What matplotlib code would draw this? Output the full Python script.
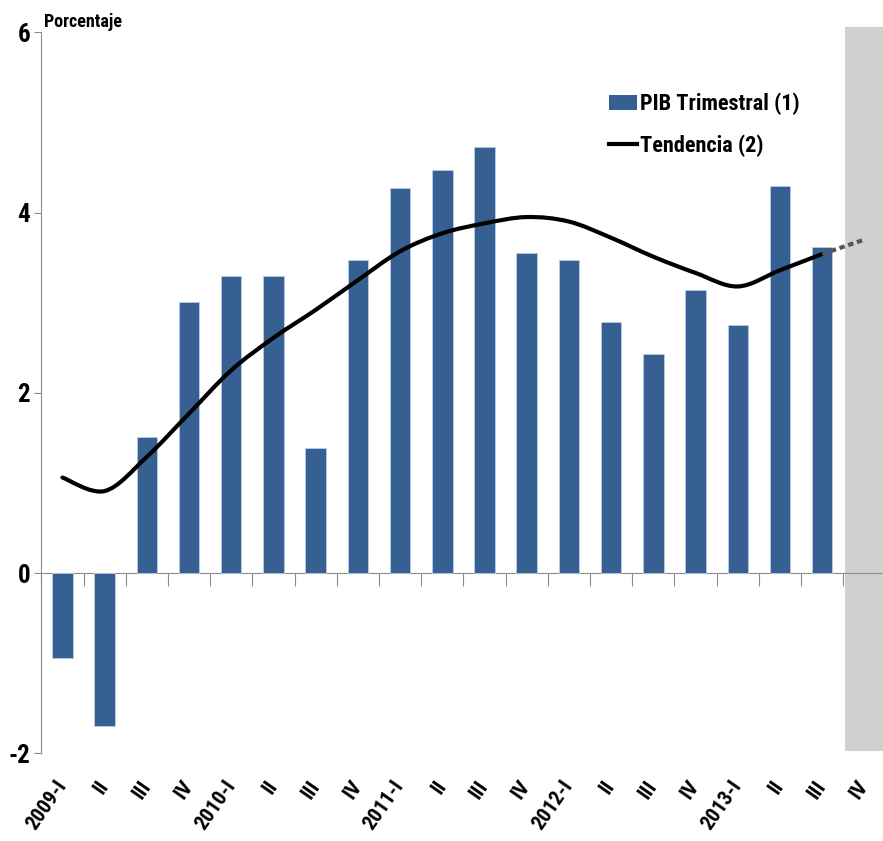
import matplotlib.pyplot as plt
import matplotlib.font_manager as fm
from matplotlib.path import Path
from matplotlib.patches import PathPatch, Patch, Rectangle
from matplotlib.lines import Line2D
import numpy as np

# data
trimestres = ['2009-I', 'II', 'III', 'IV', '2010-I', 'II', 'III', 'IV',
              '2011-I', 'II', 'III', 'IV', '2012-I', 'II', 'III', 'IV',
              '2013-I', 'II', 'III', 'IV']
pib = [-0.94, -1.70, 1.51, 3.01, 3.30, 3.30, 1.39, 3.47,
       4.27, 4.47, 4.73, 3.55, 3.47, 2.79, 2.43, 3.14,
       2.75, 4.30, 3.62]
tendencia = [1.06, 0.91, 1.29, 1.77, 2.25, 2.61, 2.92, 3.25,
             3.57, 3.77, 3.88, 3.95, 3.90, 3.72, 3.51, 3.33,
             3.18, 3.36, 3.54, 3.70]
proyeccion = 19  # index of the shaded (projected) quarter

# a narrow sans that has a real bold face
bold_names = set()
for f in fm.fontManager.ttflist:
    w = f.weight
    if isinstance(w, str):
        w = 700 if 'bold' in w.lower() else 400
    if w >= 700 and f.style == 'normal':
        bold_names.add(f.name)
prefs = ['Liberation Sans Narrow', 'Arial Narrow', 'Archivo Narrow', 'Roboto Condensed',
         'PT Sans Narrow', 'Pragati Narrow', 'Fira Sans Condensed',
         'IBM Plex Sans Condensed', 'Encode Sans Condensed', 'Barlow Semi Condensed',
         'Sofia Sans Condensed', 'Asap Condensed', 'Saira Condensed', 'Liberation Sans']
fam = next(p for p in prefs if p in bold_names)
plt.rcParams['font.family'] = [fam, 'DejaVu Sans']
plt.rcParams['font.weight'] = 'bold'

azul = '#376092'

fig = plt.figure(figsize=(8.83, 8.41), dpi=100)
ax = fig.add_axes([41.3 / 883, 87.7 / 841, 844.2 / 883, 721 / 841])

x = np.arange(len(trimestres))
ax.set_xlim(-0.5, len(trimestres) - 0.5)
ax.set_ylim(-2, 6)

# shaded projection quarter
ax.add_patch(Rectangle((proyeccion - 0.46, -1.97), 1.0, 8.03, facecolor='#d0d0d0',
                       edgecolor='none', clip_on=False, zorder=0))

ax.bar(x[:len(pib)], pib, width=0.485, color=azul, edgecolor='#b9cde5',
       linewidth=0.6, zorder=2)


def smooth_path(xs, ys):
    pts = np.column_stack([xs, ys]).astype(float)
    verts = [pts[0]]
    codes = [Path.MOVETO]
    n = len(pts)
    for i in range(n - 1):
        p0 = pts[i - 1] if i > 0 else pts[i]
        p1 = pts[i]
        p2 = pts[i + 1]
        p3 = pts[i + 2] if i + 2 < n else pts[i + 1]
        c1 = p1 + (p2 - p0) / 6.0
        c2 = p2 - (p3 - p1) / 6.0
        verts += [c1, c2, p2]
        codes += [Path.CURVE4] * 3
    return Path(verts, codes)


ax.add_patch(PathPatch(smooth_path(x[:19], tendencia[:19]), facecolor='none',
                       edgecolor='black', linewidth=3, capstyle='round', zorder=3))
ax.plot(x[18:], tendencia[18:], color='#555555', linewidth=3,
        linestyle=(0, (1.3, 0.9)), zorder=3)

# axes styling
for s in ['top', 'right', 'bottom']:
    ax.spines[s].set_visible(False)
ax.spines['left'].set_color('#8c8c8c')
ax.set_yticks([-2, 0, 2, 4, 6])
ax.set_yticklabels(['-2', '0', '2', '4', '6'], fontsize=18, fontweight='bold')
ax.tick_params(axis='y', direction='out', length=5, color='#8c8c8c', pad=3)

ax.set_xticks(x)
ax.set_xticklabels(trimestres, rotation=55, ha='right', va='center',
                   rotation_mode='anchor', fontsize=15, fontweight='bold')
ax.tick_params(axis='x', length=0, pad=21)

# zero line with category boundary ticks
sec = ax.secondary_xaxis(0.25)
sec.spines['bottom'].set_color('#8c8c8c')
sec.set_xticks(np.arange(len(trimestres) + 1) - 0.5)
sec.set_xticklabels([])
sec.tick_params(axis='x', direction='out', length=9, color='#8c8c8c')

ax.text(0.003, 1.007, 'Porcentaje', transform=ax.transAxes, fontsize=13,
        fontweight='bold', ha='left', va='baseline')

handles = [Patch(facecolor=azul, edgecolor='none'),
           Line2D([], [], color='black', linewidth=3)]
fig.legend(handles, ['PIB Trimestral (1)', 'Tendencia (2)'],
           loc='upper left', bbox_to_anchor=(600 / 883, 1 - 84 / 841),
           frameon=False, fontsize=16, handlelength=1.25, handletextpad=0.15,
           labelspacing=0.85, borderaxespad=0)

fig.savefig('out.png', dpi=100)
